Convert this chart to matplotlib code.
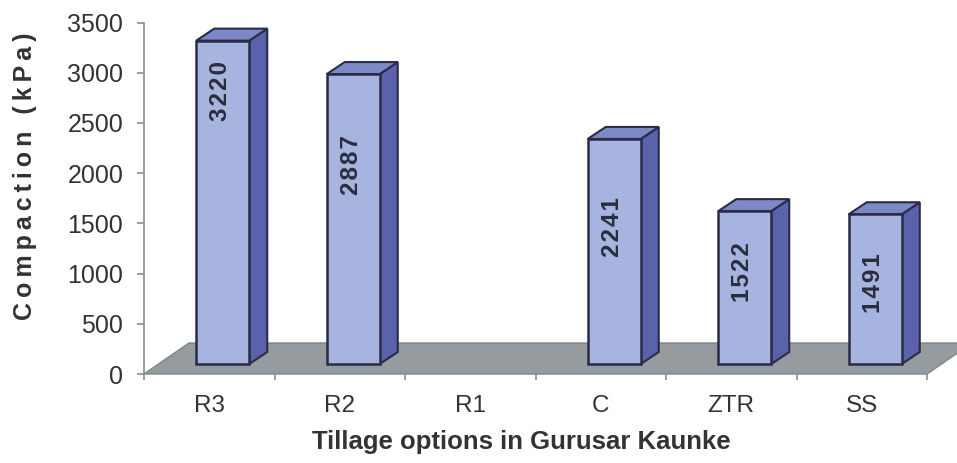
import matplotlib
matplotlib.use('Agg')
import matplotlib.pyplot as plt
from matplotlib.patches import Polygon, Rectangle

categories = ['R3', 'R2', 'R1', 'C', 'ZTR', 'SS']
compaction = [3220, 2887, None, 2241, 1522, 1491]
label_centre = [2814, 2082, None, 1459, 1011, 906]   # where Excel put the rotated labels
yticks = [0, 500, 1000, 1500, 2000, 2500, 3000, 3500]

front_col = '#a8b4e0'
side_col = '#5a62ab'
top_col = '#7d88c8'
edge_col = '#2a2c45'
floor_col = '#959b9f'
axis_col = '#8c8c8c'
text_col = '#333333'

fig = plt.figure(figsize=(9.57, 4.63), dpi=100)
ax = fig.add_axes([144 / 957, (463 - 374) / 463, 783 / 957, 351.5 / 463])
ax.set_xlim(-0.5, 5.5)
ax.set_ylim(0, 3500)

# pixel -> data helpers
px_x = 6 / 783
px_y = 3500 / 351.5

# floor
fdx, fdy = 45 * px_x, 31 * px_y
floor = Polygon([(-0.5, 0), (5.5, 0), (5.5 + fdx, fdy), (-0.5 + fdx, fdy)],
                closed=True, facecolor=floor_col, edgecolor='#7e8589', lw=1,
                clip_on=False, zorder=1)
ax.add_patch(floor)

# bars
bw = 53 * px_x
b0 = 10 * px_y
sdx, sdy = 18 * px_x, 12 * px_y
for i, v in enumerate(compaction):
    if v is None:
        continue
    xl = i - 13 * px_x
    xr = xl + bw
    top = b0 + v
    side = Polygon([(xr, b0), (xr + sdx, b0 + sdy), (xr + sdx, top + sdy), (xr, top)],
                   closed=True, facecolor=side_col, edgecolor=edge_col, lw=1.5,
                   clip_on=False, zorder=3)
    lid = Polygon([(xl, top), (xr, top), (xr + sdx, top + sdy), (xl + sdx, top + sdy)],
                  closed=True, facecolor=top_col, edgecolor=edge_col, lw=1.5,
                  clip_on=False, zorder=3)
    face = Rectangle((xl, b0), bw, v, facecolor=front_col, edgecolor=edge_col,
                     lw=1.8, clip_on=False, zorder=4)
    ax.add_patch(side)
    ax.add_patch(lid)
    ax.add_patch(face)
    ax.text((xl + xr) / 2 - 2 * px_x, label_centre[i], '\u200a'.join(str(v)), rotation=90,
            ha='center', va='center', fontsize=17.5, fontweight='bold',
            family=['Liberation Sans', 'DejaVu Sans'], color='#2b2d3d', zorder=5)

# axes styling
for s in ['top', 'right', 'bottom']:
    ax.spines[s].set_visible(False)
ax.spines['left'].set_color(axis_col)
ax.spines['left'].set_linewidth(1.2)
ax.set_yticks(yticks)
ax.set_yticklabels([str(t) for t in yticks], fontsize=18, family='Liberation Sans',
                   color=text_col)
ax.tick_params(axis='y', length=5, width=1.2, color=axis_col, pad=10)

ax.set_xticks(range(len(categories)))
ax.set_xticklabels(categories, fontsize=17.5, family='Liberation Sans', color=text_col)
ax.set_xticks([i - 0.5 for i in range(len(categories) + 1)], minor=True)
ax.tick_params(axis='x', which='major', length=0, pad=15)
ax.tick_params(axis='x', which='minor', length=4.5, width=1.2, color=axis_col)
ax.patch.set_visible(False)

ylab = '\u2009'.join('Compaction (kPa)')
fig.text(25 / 957, 1 - 176 / 463, ylab, rotation=90, ha='center', va='center',
         fontsize=18, fontweight='bold', family=['Liberation Sans', 'DejaVu Sans'],
         color=text_col)
fig.text(521 / 957, 1 - 442 / 463, 'Tillage options in Gurusar Kaunke',
         ha='center', va='center', fontsize=18.5, fontweight='bold',
         family='Liberation Sans', color=text_col)

fig.savefig('out.png', dpi=100, facecolor='white')
